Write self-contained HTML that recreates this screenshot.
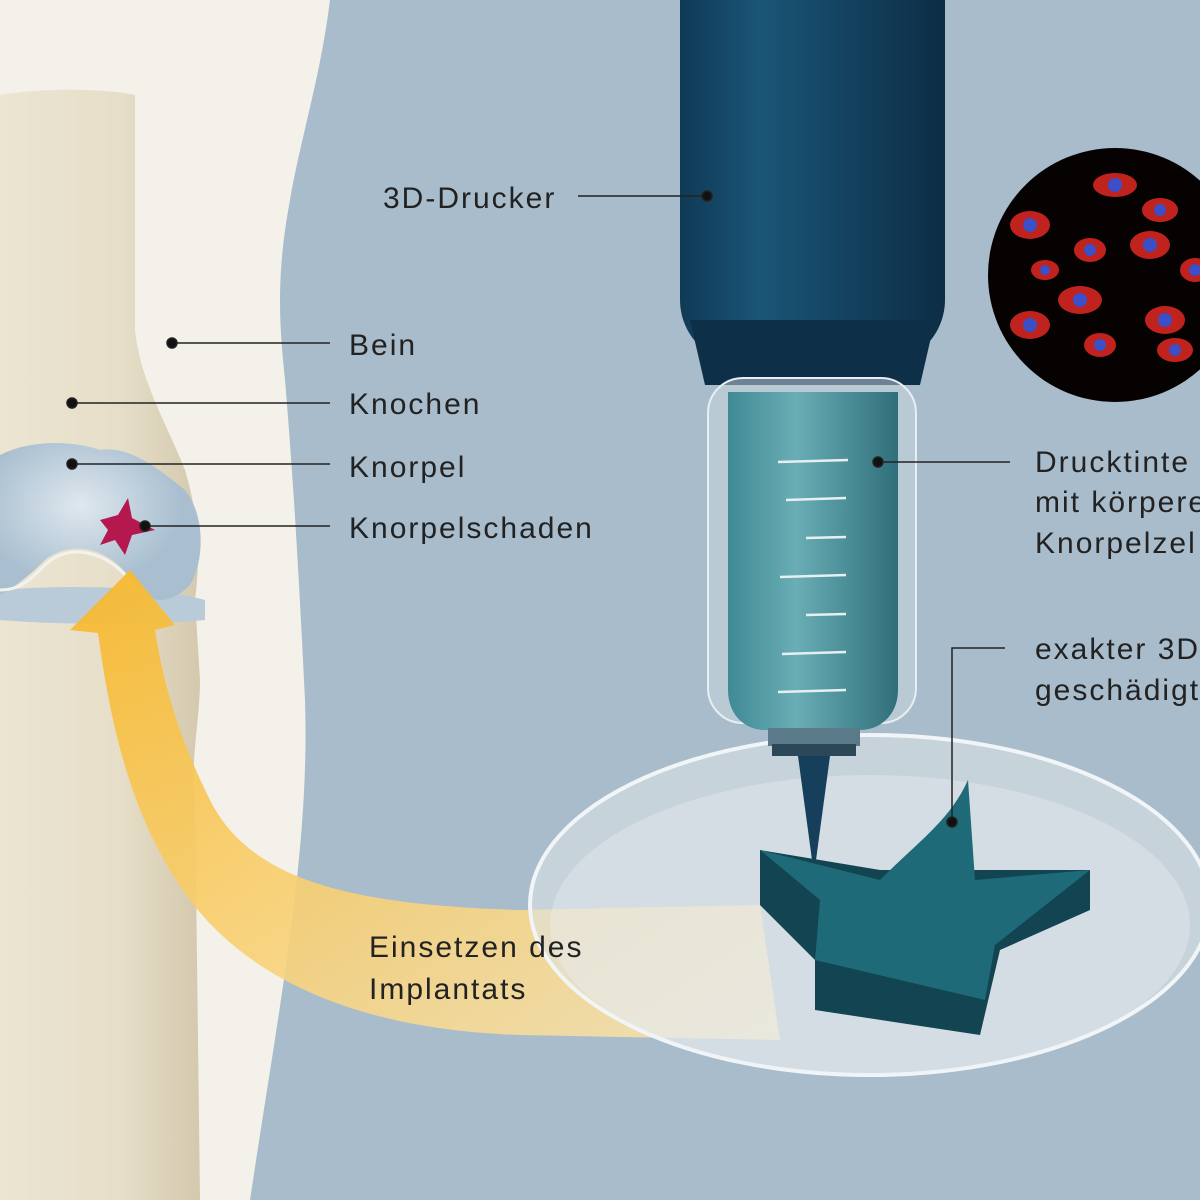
<!DOCTYPE html>
<html><head><meta charset="utf-8"><style>
html,body{margin:0;padding:0;width:1200px;height:1200px;overflow:hidden;background:#a9bccb}
svg{display:block}
text{font-family:"Liberation Sans",sans-serif;font-size:30px;fill:#222;letter-spacing:2px}
</style></head><body>
<svg width="1200" height="1200" viewBox="0 0 1200 1200">
<defs>
<linearGradient id="bone" x1="0" x2="1"><stop offset="0" stop-color="#ece5d2"/><stop offset="0.6" stop-color="#e6dec8"/><stop offset="1" stop-color="#d4c9ae"/></linearGradient>
<linearGradient id="body" x1="0" x2="1"><stop offset="0" stop-color="#0f3a55"/><stop offset="0.3" stop-color="#1a5577"/><stop offset="1" stop-color="#0c2d45"/></linearGradient>
<linearGradient id="syr" x1="0" x2="1"><stop offset="0" stop-color="#3f8a95"/><stop offset="0.4" stop-color="#6aadb5"/><stop offset="1" stop-color="#2f6f7a"/></linearGradient>
<radialGradient id="cart" cx="0.4" cy="0.4"><stop offset="0" stop-color="#dfe8ef"/><stop offset="1" stop-color="#a9bfd0"/></radialGradient>
<linearGradient id="arrow" x1="1" x2="0" y1="1" y2="0"><stop offset="0" stop-color="#fbe6b3" stop-opacity="0.85"/><stop offset="1" stop-color="#f6b82d" stop-opacity="0.95"/></linearGradient>
</defs>
<path d="M0 0 L330 0 C320 80 300 140 290 200 C275 280 280 330 285 380 C295 500 300 600 305 700 C310 850 280 1000 250 1200 L0 1200Z" fill="#f4f1ea"/>
<path d="M0 95 C40 88 100 88 135 95 L135 330 C140 380 165 420 185 470 C200 520 200 560 195 600 L200 680 C200 720 190 760 195 800 L200 1200 L0 1200Z" fill="url(#bone)"/>
<path d="M0 590 C60 585 150 585 205 600 L205 620 C150 625 60 625 0 620Z" fill="#b9cbd8"/>
<path d="M0 455 C30 440 70 440 100 450 C130 445 160 470 185 490 C205 515 205 560 190 585 C170 605 150 605 135 585 C110 545 70 540 45 560 C25 580 10 590 0 595Z" fill="url(#cart)"/>
<path d="M0 590 C20 590 30 580 45 565 C65 545 100 548 125 575" fill="none" stroke="#f2f2ee" stroke-width="3"/>
<polygon points="100,520 118,515 128,498 132,518 155,530 132,535 125,555 115,540 100,545 108,530" fill="#b5174f"/>
<path d="M760 905 L520 910 C350 905 250 880 210 800 C170 720 160 660 155 630 L175 625 L130 570 L70 630 L98 633 C110 720 130 820 190 900 C250 980 360 1030 520 1035 L780 1040Z" fill="url(#arrow)"/>
<ellipse cx="870" cy="905" rx="340" ry="170" fill="#dfe5ea" fill-opacity="0.55" stroke="#f2f5f7" stroke-width="4"/>
<ellipse cx="870" cy="925" rx="320" ry="150" fill="#eef1f3" fill-opacity="0.35"/>
<path d="M680 0 L945 0 L945 300 C945 320 935 340 920 350 L920 385 L705 385 L705 350 C690 340 680 320 680 300Z" fill="url(#body)"/>
<path d="M690 320 L935 320 L920 385 L705 385Z" fill="#0d2f48"/>
<rect x="708" y="378" width="208" height="345" rx="35" fill="#c9d7e0" fill-opacity="0.5" stroke="#e8eef2" stroke-width="2"/>
<path d="M728 392 L898 392 L898 690 C898 715 880 730 860 730 L765 730 C745 730 728 715 728 690Z" fill="url(#syr)"/>
<g stroke="#e6f0f2" stroke-width="2.5">
<line x1="778" y1="462" x2="848" y2="460"/><line x1="786" y1="500" x2="846" y2="498"/><line x1="806" y1="538" x2="846" y2="537"/>
<line x1="780" y1="577" x2="846" y2="575"/><line x1="806" y1="615" x2="846" y2="614"/><line x1="782" y1="654" x2="846" y2="652"/><line x1="778" y1="692" x2="846" y2="690"/>
</g>
<rect x="768" y="728" width="92" height="18" fill="#5a7a8a"/>
<rect x="772" y="744" width="84" height="12" fill="#2c4858"/>
<path d="M798 756 L830 756 L816 860 L812 860Z" fill="#153f5a"/>
<path d="M760 850 L880 870 L1090 870 L1090 910 L1000 950 L980 1035 L815 1010 L815 960 L760 905Z" fill="#124452"/>
<path d="M760 850 L880 880 C920 840 950 820 968 780 L975 880 L1090 870 L995 945 L985 1000 L815 960 L820 900 Z" fill="#1e6a78"/>
<circle cx="1115" cy="275" r="127" fill="#060202"/>
<g fill="#c0231d">
<ellipse cx="1030" cy="225" rx="20" ry="14"/><ellipse cx="1115" cy="185" rx="22" ry="12"/><ellipse cx="1160" cy="210" rx="18" ry="12"/>
<ellipse cx="1090" cy="250" rx="16" ry="12"/><ellipse cx="1150" cy="245" rx="20" ry="14"/><ellipse cx="1195" cy="270" rx="15" ry="12"/>
<ellipse cx="1080" cy="300" rx="22" ry="14"/><ellipse cx="1030" cy="325" rx="20" ry="14"/><ellipse cx="1100" cy="345" rx="16" ry="12"/>
<ellipse cx="1165" cy="320" rx="20" ry="14"/><ellipse cx="1175" cy="350" rx="18" ry="12"/><ellipse cx="1045" cy="270" rx="14" ry="10"/>
</g>
<g fill="#3a4fc8">
<circle cx="1030" cy="225" r="7"/><circle cx="1115" cy="185" r="7"/><circle cx="1160" cy="210" r="6"/><circle cx="1090" cy="250" r="6"/>
<circle cx="1150" cy="245" r="7"/><circle cx="1195" cy="270" r="6"/><circle cx="1080" cy="300" r="7"/><circle cx="1030" cy="325" r="7"/>
<circle cx="1100" cy="345" r="6"/><circle cx="1165" cy="320" r="7"/><circle cx="1175" cy="350" r="6"/><circle cx="1045" cy="270" r="5"/>
</g>
<g stroke="#222" stroke-width="1.5" fill="#111">
<line x1="172" y1="343" x2="330" y2="343"/><circle cx="172" cy="343" r="5"/>
<line x1="72" y1="403" x2="330" y2="403"/><circle cx="72" cy="403" r="5"/>
<line x1="72" y1="464" x2="330" y2="464"/><circle cx="72" cy="464" r="5"/>
<line x1="145" y1="526" x2="330" y2="526"/><circle cx="145" cy="526" r="5"/>
<line x1="578" y1="196" x2="707" y2="196"/><circle cx="707" cy="196" r="5"/>
<line x1="878" y1="462" x2="1010" y2="462"/><circle cx="878" cy="462" r="5"/>
<polyline points="1005,648 952,648 952,822" fill="none"/><circle cx="952" cy="822" r="5"/>
</g>
<text x="349" y="355">Bein</text>
<text x="349" y="414">Knochen</text>
<text x="349" y="477">Knorpel</text>
<text x="349" y="538">Knorpelschaden</text>
<text x="383" y="208">3D-Drucker</text>
<text x="1035" y="472">Drucktinte</text>
<text x="1035" y="512">mit körpere</text>
<text x="1035" y="553">Knorpelzel</text>
<text x="1035" y="659">exakter 3D</text>
<text x="1035" y="700">geschädigt</text>
<text x="369" y="957">Einsetzen des</text>
<text x="369" y="999">Implantats</text>
</svg>
</body></html>
